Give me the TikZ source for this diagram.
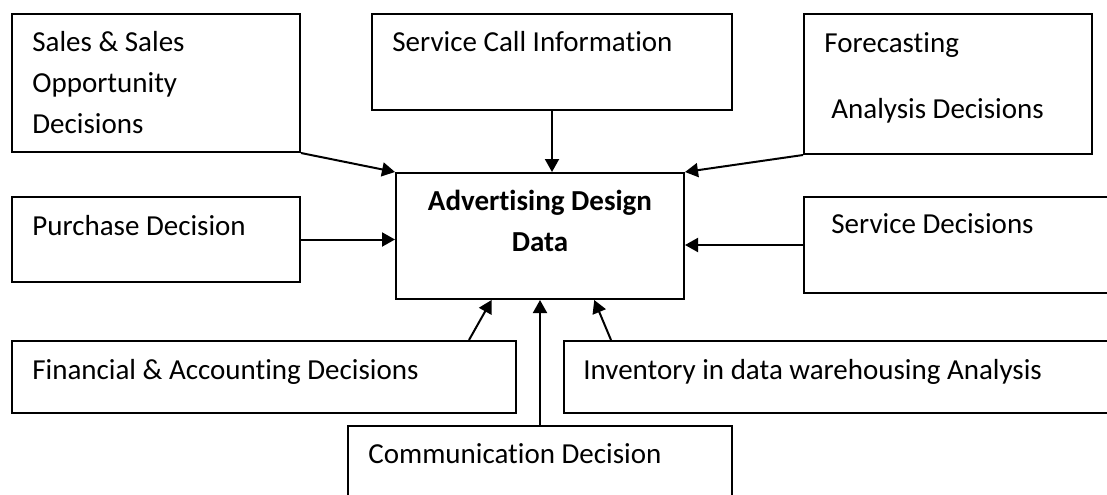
\documentclass[tikz,border=0pt]{standalone}
\usepackage{fontspec}
\setmainfont[Ligatures=NoCommon]{Carlito}
\usetikzlibrary{arrows.meta,calc}

\begin{document}
\begin{tikzpicture}[
    x=0.5pt, y=-0.5pt,
    >={Triangle[length=6.5pt,width=7pt]},
    box/.style={rectangle, draw=black, line width=1pt, fill=white, anchor=north west, inner sep=0pt},
    txt/.style={anchor=base west, inner sep=0pt, align=left, font=\fontsize{14.5}{20.5}\selectfont},
    arr/.style={->, line width=1pt}
  ]
    \useasboundingbox (0,0) rectangle (1107,494);
    % boxes round the data store
    \node[box, minimum width=144pt, minimum height=69pt] (sales) at (11,13) {};
    \node[box, minimum width=180pt, minimum height=48pt] (call) at (371,13) {};
    \node[box, minimum width=144pt, minimum height=70pt] (fcast) at (803,13) {};
    \node[box, minimum width=144pt, minimum height=42.5pt] (purch) at (11,196) {};
    \node[box, minimum width=144pt, minimum height=63pt] (data) at (395,172) {};
    \node[box, minimum width=160pt, minimum height=48pt] (serv) at (803,196) {};
    \node[box, minimum width=252pt, minimum height=36pt] (fin) at (11,340) {};
    \node[box, minimum width=280pt, minimum height=36pt] (inv) at (563,340) {};
    \node[box, minimum width=192pt, minimum height=40pt] (comm) at (347,425) {};
    % texts (base anchor sits on the last line)
    \node[txt] (sales-t) at ([shift={(21,120)}]sales.north west) {Sales \& Sales\\Opportunity\\Decisions};
    \node[txt] (call-t) at ([shift={(21,38)}]call.north west) {Service Call Information};
    \node[txt] (fcast-t) at ([shift={(21,105)}]fcast.north west) {Forecasting\\[12.5pt]\hspace*{3.5pt}Analysis Decisions};
    \node[txt] (purch-t) at ([shift={(21,39)}]purch.north west) {Purchase Decision};
    \node[txt, anchor=base, align=center, font=\fontsize{14.5}{20.5}\selectfont\bfseries] (data-t) at ([yshift=-39.5pt]data.north) {Advertising Design\\Data};
    \node[txt] (serv-t) at ([shift={(28,37)}]serv.north west) {Service Decisions};
    \node[txt] (fin-t) at ([shift={(21,39)}]fin.north west) {Financial \& Accounting Decisions};
    \node[txt] (inv-t) at ([shift={(20,39)}]inv.north west) {Inventory in data warehousing Analysis};
    \node[txt] (comm-t) at ([shift={(21,38)}]comm.north west) {Communication Decision};
    % arrows into the data store
    \draw[arr] (sales.south east) -- (data.north west);
    \draw[arr] (call.south) -- (call.south |- data.north);
    \draw[arr] (fcast.south west) -- (data.north east);
    \draw[arr] (purch.east) -- (data.west |- purch.east);
    \draw[arr] (serv.west) -- (data.east |- serv.west);
    \draw[arr] ([xshift=-24pt]fin.north east) -- ($(data.south west)!0.333!(data.south east)$);
    \draw[arr] (comm.north) -- (data.south);
    \draw[arr] ([xshift=24pt]inv.north west) -- ($(data.south west)!0.687!(data.south east)$);
\end{tikzpicture}
\end{document}
